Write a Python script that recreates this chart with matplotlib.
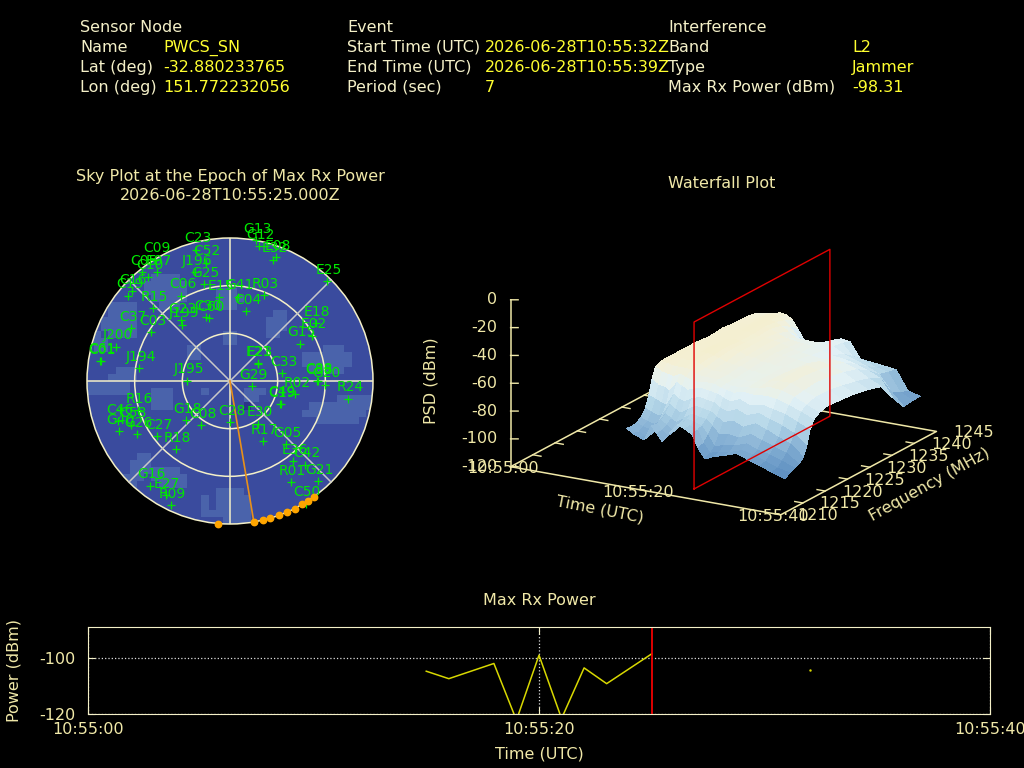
import numpy as np
import matplotlib
matplotlib.use("Agg")
import matplotlib.pyplot as plt
from matplotlib.axes import Axes
from matplotlib.colors import LinearSegmentedColormap, ListedColormap
from matplotlib.patches import Circle
from mpl_toolkits.mplot3d import proj3d

CREAM = "#f0e8a8"
PALE = "#f4f0c8"
YELLOW = "#ffff30"
GREEN = "#00e800"

# header
sensor_rows = [("Name", "PWCS_SN"), ("Lat (deg)", "-32.880233765"), ("Lon (deg)", "151.772232056")]
event_rows = [("Start Time (UTC)", "2026-06-28T10:55:32Z"), ("End Time (UTC)", "2026-06-28T10:55:39Z"), ("Period (sec)", "7")]
interf_rows = [("Band", "L2"), ("Type", "Jammer"), ("Max Rx Power (dBm)", "-98.31")]

# sky plot, east/north are degrees of zenith angle
sat_names = ["G13", "G12", "E08", "E32", "E25", "C23", "C52", "J196", "G25", "C09", "E07", "C05", "C10", "C16", "C19",
             "R15", "C06", "E15", "G41", "R03", "C04", "G23", "J199", "C30", "C60", "C37", "C03", "J200", "C01", "C61",
             "J194", "J195", "E18", "E02", "G15", "E21", "E23", "C33", "C38", "C88", "G20", "R02", "G29", "R24", "C19",
             "C49", "R16", "", "C46", "G40", "C58", "G26", "C27", "R18", "G18", "C08", "C28", "E30", "R17", "G05",
             "E36", "C42", "R01", "G21", "C50", "G16", "E27", "R09"]
sat_east = [16.2, 18.3, 29.2, 27.1, 61.3, -21.2, -15.3, -22.0, -16.4, -47.2, -45.9, -55.2, -51.6, -61.7, -64.0,
            -48.5, -30.8, -6.9, 5.0, 21.4, 10.3, -30.8, -30.2, -14.9, -13.2, -62.3, -49.5, -71.5, -81.6, -81.2,
            -57.3, -27.1, 53.9, 51.6, 44.1, 17.4, 17.8, 32.7, 54.8, 55.2, 59.8, 41.1, 13.8, 74.5, 31.5,
            31.9, -57.9, -69.0, -70.5, -69.9, -62.1, -58.5, -45.9, -33.8, -27.5, -18.0, 0.0, 17.6, 20.8, 35.0,
            39.7, 47.2, 38.4, 55.4, 47.6, -50.6, -40.5, -37.3]
sat_north = [88.5, 84.8, 78.0, 76.4, 62.9, 82.7, 74.3, 68.6, 60.8, 76.4, 68.6, 68.4, 65.5, 56.6, 53.5,
             45.7, 53.7, 52.7, 52.9, 54.1, 43.8, 38.2, 35.5, 40.1, 39.4, 33.1, 30.6, 21.4, 12.4, 12.8,
             8.0, 0.2, 36.5, 28.5, 23.3, 10.9, 11.3, 5.0, -0.2, 0.2, -2.3, -8.2, -3.4, -11.3, -14.5,
             -14.3, -18.5, -18.5, -25.4, -31.7, -27.5, -33.4, -34.8, -42.8, -24.8, -27.9, -26.0, -26.9, -38.0, -39.7,
             -50.6, -52.7, -63.8, -63.2, -77.2, -65.9, -72.0, -78.3]
track_az = [184.7, 170.4, 166.7, 163.8, 160.0, 156.5, 153.1, 149.7, 146.8, 144.1]
max_power_az = 170.4

# lighter patches of the sky background: row -> (first col, last col)
bg_light = {5: [(9, 12)], 6: [(8, 13)], 7: [(8, 13), (18, 20)], 8: [(9, 13), (18, 21)], 9: [(3, 6), (10, 12), (18, 20)],
            10: [(3, 6), (26, 27)], 11: [(2, 6), (25, 27)], 12: [(2, 6), (25, 27)], 13: [(0, 1), (3, 6), (25, 26), (19, 20)],
            14: [(1, 2), (19, 20)], 15: [(1, 2), (14, 15), (33, 35)], 16: [(14, 15), (30, 36)], 17: [(30, 36)],
            18: [(4, 6), (31, 35)], 19: [(3, 6)], 20: [(0, 5)], 21: [(0, 5), (9, 11), (16, 16), (22, 24)],
            22: [(9, 11), (22, 23), (35, 39)], 23: [(9, 11), (31, 39)], 24: [(30, 38)], 25: [(32, 37)],
            30: [(7, 8)], 31: [(6, 8)], 32: [(6, 8), (9, 12)], 33: [(5, 7), (9, 13)], 34: [(6, 6), (10, 13)],
            35: [(18, 21)], 36: [(18, 22), (16, 16)], 37: [(18, 22), (16, 16), (7, 8)], 38: [(18, 22), (16, 17), (7, 8)],
            39: [(19, 22)]}
bg_dark = {23: [(22, 22)]}

# waterfall
wf_time = [15, 16, 17, 17.6, 18.7, 19.5, 20.3, 21.4, 22.5, 23.6, 24.7, 25.6, 26.6, 28, 29.5, 31.3, 33, 34.8, 36.6, 38.4]
wf_freq = [1213.3, 1214.5, 1215.5, 1216.5, 1217.5, 1218.3, 1219, 1219.8, 1221, 1223, 1226, 1229, 1232, 1235, 1237.5, 1240, 1242, 1243.8]
wf_psd = [
    [-85, -86, -85, -83, -78, -70, -60, -52, -50, -50, -50, -50, -51, -50, -51, -51, -52, -55],
    [-88, -89, -87, -85, -80, -72, -63, -55, -51, -51, -50, -51, -50, -51, -50, -52, -52, -54],
    [-90, -91, -88, -86, -82, -74, -64, -56, -52, -50, -51, -50, -50, -50, -51, -50, -51, -53],
    [-91, -90, -89, -84, -80, -75, -66, -57, -52, -51, -50, -50, -51, -50, -50, -50, -50, -52],
    [-80, -81, -80, -77, -72, -66, -59, -54, -52, -50, -50, -49, -50, -50, -50, -50, -51, -53],
    [-85, -85, -83, -80, -75, -69, -61, -56, -53, -52, -51, -50, -51, -51, -50, -51, -53, -56],
    [-90, -88, -86, -82, -77, -70, -63, -57, -55, -54, -52, -51, -51, -52, -51, -53, -57, -62],
    [-83, -83, -81, -78, -73, -67, -61, -58, -56, -55, -54, -52, -52, -52, -53, -56, -63, -70],
    [-76, -77, -76, -74, -70, -65, -60, -57, -56, -55, -55, -54, -53, -53, -55, -60, -68, -73],
    [-78, -78, -77, -75, -71, -66, -61, -57, -56, -56, -55, -54, -54, -54, -56, -60, -67, -72],
    [-81, -80, -79, -76, -72, -67, -62, -59, -58, -58, -57, -56, -55, -56, -57, -60, -65, -70],
    [-90, -89, -85, -80, -75, -70, -64, -60, -59, -58, -57, -56, -56, -57, -57, -60, -63, -66],
    [-97, -95, -92, -85, -78, -72, -66, -61, -59, -58, -58, -57, -56, -58, -58, -60, -61, -63],
    [-94, -93, -90, -84, -76, -69, -63, -59, -58, -57, -57, -57, -57, -59, -60, -61, -62, -64],
    [-92, -92, -89, -85, -79, -72, -66, -60, -57, -56, -56, -57, -58, -60, -62, -65, -70, -75],
    [-89, -89, -86, -81, -75, -69, -64, -59, -55, -54, -53, -53, -55, -59, -63, -68, -72, -76],
    [-92, -91, -89, -84, -78, -72, -66, -60, -56, -54, -54, -55, -57, -60, -65, -71, -75, -77],
    [-95, -94, -91, -87, -82, -75, -68, -63, -59, -58, -57, -58, -60, -63, -68, -75, -77, -78],
    [-98, -97, -94, -90, -85, -79, -72, -66, -63, -61, -61, -63, -65, -68, -72, -86, -90, -92],
    [-101, -99, -97, -96, -93, -86, -76, -70, -67, -65, -66, -67, -69, -72, -84, -95, -94, -94],
]
epoch_t = 25

# max rx power
pw_time = [15, 16, 18, 19, 20, 21, 22, 23, 25]
pw_value = [-104.7, -107.4, -101.9, -122.4, -98.9, -121.8, -103.5, -109.2, -98.4]
pw_single_time = [32]
pw_single_value = [-104.1]


def axes_px(fig, x0, y0, x1, y1, **kw):
    # y measured from the top of the picture
    return fig.add_axes([x0 / 1024, 1 - y1 / 768, (x1 - x0) / 1024, (y1 - y0) / 768], **kw)


plt.rcParams["font.family"] = "DejaVu Sans"
fig = plt.figure(figsize=(10.24, 7.68), dpi=100, facecolor="black")


def header(x, title, rows, x_val):
    fig.text(x / 1024, 1 - 27 / 768, title, color=PALE, fontsize=11.5, va="center")
    for i, (k, v) in enumerate(rows):
        y = 1 - (47.5 + 20 * i) / 768
        fig.text(x / 1024, y, k, color=PALE, fontsize=11.5, va="center")
        fig.text(x_val / 1024, y, v, color=YELLOW, fontsize=11.5, va="center")


header(80, "Sensor Node", sensor_rows, 163)
header(347, "Event", event_rows, 485)
header(668, "Interference", interf_rows, 852)

# sky plot
fig.text(230 / 1024, 1 - 177 / 768, "Sky Plot at the Epoch of Max Rx Power", color=CREAM, fontsize=11.5, ha="center", va="center")
fig.text(230 / 1024, 1 - 195 / 768, "2026-06-28T10:55:25.000Z", color=CREAM, fontsize=11.5, ha="center", va="center")

sky = axes_px(fig, 87, 238, 373, 524, facecolor="black")
sky.set_xlim(-90, 90)
sky.set_ylim(-90, 90)
sky.axis("off")

grid = np.zeros((40, 40))
for row, spans in bg_light.items():
    for a, b in spans:
        grid[row, a:b + 1] = 1
for row, spans in bg_dark.items():
    for a, b in spans:
        grid[row, a:b + 1] = 2
cmap = ListedColormap(["#3a4b9e", "#4a63ab", "#2b3488"])
edges = np.linspace(-90, 90, 41)
mesh = sky.pcolormesh(edges, edges[::-1], grid, cmap=cmap, vmin=0, vmax=2, rasterized=True)
mesh.set_clip_path(Circle((0, 0), 90, transform=sky.transData))

for r in [30, 60, 90]:
    sky.add_patch(Circle((0, 0), r, fill=False, edgecolor=PALE, lw=1.1, clip_on=False))
sky.plot([-90, 90], [0, 0], color=PALE, lw=1.1)
sky.plot([0, 0], [-90, 90], color=PALE, lw=1.1)
d = 90 * np.cos(np.pi / 4)
sky.plot([-d, d], [-d, d], color="#c8c8c8", lw=1.1)
sky.plot([-d, d], [d, -d], color="#c8c8c8", lw=1.1)

track_r = np.radians(track_az)
sky.plot([0, 90 * np.sin(np.radians(max_power_az))], [0, 90 * np.cos(np.radians(max_power_az))], color="#e8901a", lw=1.2)
sky.plot(90 * np.sin(track_r), 90 * np.cos(track_r), ls="none", marker="o", ms=4.6, color="#ffa500", clip_on=False, zorder=6)
sky.plot(sat_east, sat_north, ls="none", marker="+", ms=5.5, mew=0.9, color=GREEN, clip_on=False, zorder=5)
for name, e, n in zip(sat_names, sat_east, sat_north):
    sky.annotate(name, (e, n), xytext=(1.5, 11.5), textcoords="offset pixels", color=GREEN, fontsize=10, ha="center", va="center", annotation_clip=False, zorder=5)

# waterfall
wf = fig.add_axes([0.3, 0.2, 0.5, 0.5], projection="3d", facecolor="black", proj_type="ortho", computed_zorder=False)
wf.view_init(elev=18, azim=-60)
wf.set_box_aspect((310, 310, 174.5))
wf.set_xlim(0, 40)
wf.set_ylim(1210, 1245)
wf.set_zlim(-120, 0)
wf.set_axis_off()
wf.patch.set_alpha(0)

# fit the 3d box onto the picture: 10:55:00 corner at (510.6, 466.7), 10:55:40 corner 270 px to the right
u0, v0, _ = proj3d.proj_transform(0, 1210, -120, wf.get_proj())
u1, v1, _ = proj3d.proj_transform(40, 1210, -120, wf.get_proj())
lim_x = Axes.get_xlim(wf)
lim_y = Axes.get_ylim(wf)
size = 270 * (lim_x[1] - lim_x[0]) / (u1 - u0)
left = 510.6 - size * (u0 - lim_x[0]) / (lim_x[1] - lim_x[0])
bottom = 466.7 + size * (v0 - lim_y[0]) / (lim_y[1] - lim_y[0])
wf.set_position([left / 1024, 1 - bottom / 768, size / 1024, size / 768])


def label3d(x, y, z, text, dx, dy, ha="center"):
    u, v, _ = proj3d.proj_transform(x, y, z, wf.get_proj())
    wf.annotate(text, (u, v), xytext=(dx, dy), textcoords="offset pixels", color=CREAM, fontsize=11.5,
                ha=ha, va="center", annotation_clip=False, zorder=7)


wf_cmap = LinearSegmentedColormap.from_list("wf", [(0, "#3f74b2"), (0.3, "#79a6ce"), (0.55, "#b4d6e8"), (0.77, "#e2f1f6"), (0.92, "#f3f0d8"), (1, "#f6edc4")])
T, F = np.meshgrid(wf_time, wf_freq, indexing="ij")
Z = np.array(wf_psd, dtype=float)
wf.plot_surface(T, F, Z, cmap=wf_cmap, vmin=-110, vmax=-47, rstride=1, cstride=1, linewidth=0, antialiased=False, shade=False, zorder=3)

wf.plot([0, 40, 40, 0, 0], [1210, 1210, 1245, 1245, 1210], [-120] * 5, color=CREAM, lw=1.1, zorder=1)
wf.plot([0, 0], [1210, 1210], [-120, 0], color=CREAM, lw=1.1, zorder=4)
for z in range(-120, 1, 20):
    # keep the z ticks level on screen
    wf.plot([0, 0.84], [1210, 1210.42], [z, z], color=CREAM, lw=1, zorder=4)
    label3d(0, 1210, z, str(z), -13, 0, ha="right")
for f in range(1215, 1245, 5):
    wf.plot([0, 1.2], [f, f], [-120, -120], color=CREAM, lw=1, zorder=1)
    wf.plot([38.8, 40], [f, f], [-120, -120], color=CREAM, lw=1, zorder=2)
for f in range(1210, 1246, 5):
    label3d(40, f, -120, str(f), 37, -1)
for t, lab in [(0, "10:55:00"), (20, "10:55:20"), (40, "10:55:40")]:
    label3d(t, 1210, -120, lab, -8, -2)
fig.text(600 / 1024, 1 - 510 / 768, "Time (UTC)", color=CREAM, fontsize=11.5, rotation=-11, ha="center", va="center")
fig.text(930 / 1024, 1 - 485 / 768, "Frequency (MHz)", color=CREAM, fontsize=11.5, rotation=29, ha="center", va="center")
fig.text(431 / 1024, 1 - 381 / 768, "PSD (dBm)", color=CREAM, fontsize=11.5, rotation=90, ha="center", va="center")
fig.text(722 / 1024, 1 - 184 / 768, "Waterfall Plot", color=CREAM, fontsize=11.5, ha="center", va="center")

rect_f = wf_freq[0], wf_freq[-1]
wf.plot([epoch_t] * 5, [rect_f[0], rect_f[1], rect_f[1], rect_f[0], rect_f[0]], [-120, -120, 0, 0, -120], color="#e00000", lw=1, zorder=6)

# max rx power
pw = axes_px(fig, 88, 627, 990, 713.5, facecolor="black")
pw.set_xlim(0, 40)
pw.set_ylim(-120, -88.7)
for s in pw.spines.values():
    s.set_color(PALE)
pw.set_xticks([0, 20, 40], ["10:55:00", "10:55:20", "10:55:40"])
pw.set_yticks([-120, -100], ["-120", "-100"])
pw.tick_params(colors=CREAM, labelsize=11.5, length=5, direction="in", top=True, right=True)
pw.tick_params(axis="x", pad=6, color=PALE)
pw.tick_params(axis="y", pad=9, color=PALE)
pw.grid(True, color="#e0e0e0", ls=":", lw=0.9)
pw.plot(pw_time, pw_value, color="#d8d800", lw=1.1)
pw.plot(pw_single_time, pw_single_value, ls="none", marker=".", ms=1.5, color="#d8d800")
pw.axvline(epoch_t, color="#f00000", lw=1.3)
pw.set_xlabel("Time (UTC)", color=CREAM, fontsize=11.5, labelpad=7)
pw.set_ylabel("Power (dBm)", color=CREAM, fontsize=11.5, labelpad=13)
pw.set_title("Max Rx Power", color=CREAM, fontsize=11.5, pad=16)

fig.savefig("out.png", dpi=100, facecolor="black")
